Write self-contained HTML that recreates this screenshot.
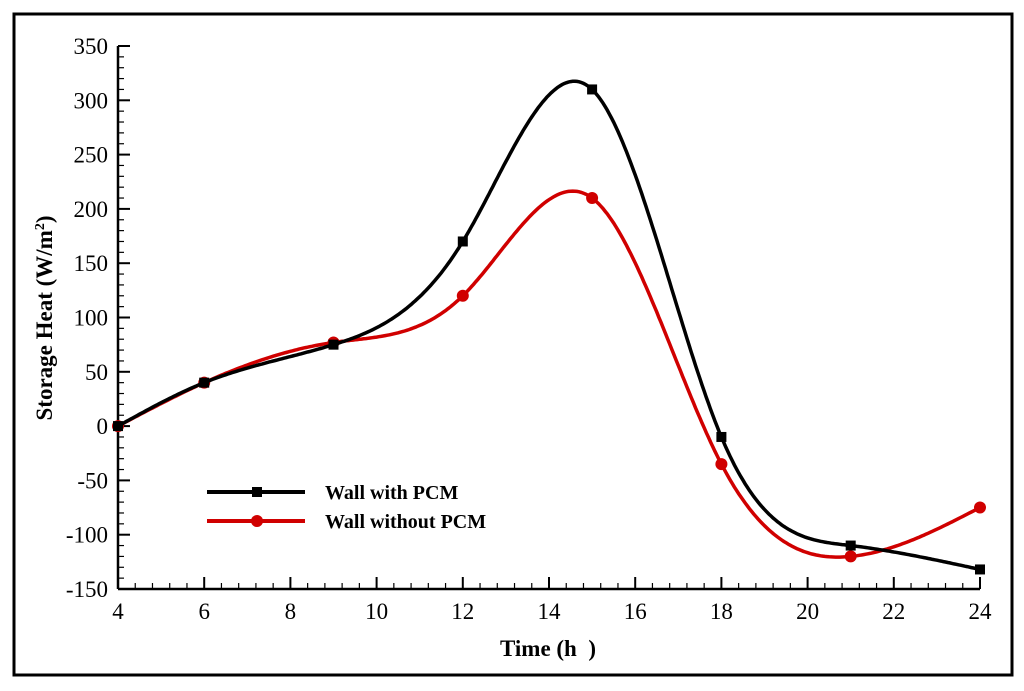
<!DOCTYPE html>
<html><head><meta charset="utf-8"><style>
body{margin:0;background:#fff}
svg{display:block;font-family:"Liberation Serif",serif}
</style></head><body>
<svg width="1024" height="691">
<rect x="14" y="14" width="998" height="661" fill="#fff" stroke="#000" stroke-width="3"/>
<g id="axes"></g>
<g id="series"></g>
<g>
<line x1="207" y1="492" x2="305" y2="492" stroke="#000" stroke-width="4"/>
<rect x="252" y="487" width="10" height="10" fill="#000"/>
<text x="325" y="499" font-size="20" font-weight="bold">Wall with PCM</text>
<line x1="207" y1="521" x2="305" y2="521" stroke="#d00000" stroke-width="4"/>
<circle cx="257" cy="521" r="6" fill="#d00000"/>
<text x="325" y="528" font-size="20" font-weight="bold">Wall without PCM</text>
</g>
<text x="548" y="656" font-size="23" font-weight="bold" text-anchor="middle">Time (h&#160;&#160;)</text>
<text transform="translate(52,318) rotate(-90)" font-size="23" font-weight="bold" text-anchor="middle">Storage Heat (W/m<tspan font-size="14" dy="-8">2</tspan><tspan dy="8">)</tspan></text>
</svg>
<script>
const xTicks=[4,6,8,10,12,14,16,18,20,22,24];
const yTicks=[350,300,250,200,150,100,50,0,-50,-100,-150];
const times=[4,6,9,12,15,18,21,24];
const withPCM=[0,40,75,170,310,-10,-110,-132];
const withoutPCM=[0,40,77,120,210,-35,-120,-75];
const NS='http://www.w3.org/2000/svg';
const X=v=>118+(v-4)*(980-118)/20;
const Y=v=>46+(350-v)*(589-46)/500;
function mk(t,a,p){const e=document.createElementNS(NS,t);for(const k in a)e.setAttribute(k,a[k]);p.appendChild(e);return e;}
const ax=document.getElementById('axes');
mk('line',{x1:118,y1:Y(350),x2:118,y2:Y(-150),stroke:'#000','stroke-width':2.5},ax);
mk('line',{x1:118,y1:Y(-150),x2:980,y2:Y(-150),stroke:'#000','stroke-width':2.5},ax);
xTicks.forEach((t,i)=>{
 mk('line',{x1:X(t),y1:Y(-150),x2:X(t),y2:Y(-150)-12,stroke:'#000','stroke-width':2},ax);
 if(i<xTicks.length-1)for(let m=1;m<5;m++){const xv=X(t+m*0.4);mk('line',{x1:xv,y1:Y(-150),x2:xv,y2:Y(-150)-6,stroke:'#000','stroke-width':1.2},ax);}
 const tx=mk('text',{x:X(t),y:Y(-150)+30,'font-size':23,'text-anchor':'middle'},ax);tx.textContent=t;
 
 
});
yTicks.forEach((t,i)=>{
 mk('line',{x1:118,y1:Y(t),x2:130,y2:Y(t),stroke:'#000','stroke-width':2},ax);
 if(i<yTicks.length-1)for(let m=1;m<5;m++){const yv=Y(t-m*10);mk('line',{x1:118,y1:yv,x2:124,y2:yv,stroke:'#000','stroke-width':1.2},ax);}
 const tx=mk('text',{x:108,y:Y(t)+8,'font-size':23,'text-anchor':'end'},ax);tx.textContent=t;
 
 
});
function spline(xs,ys){const n=xs.length,h=[],a=[],l=[1],mu=[0],z=[0],c=new Array(n).fill(0),b=[],d=[];
 for(let i=0;i<n-1;i++)h.push(xs[i+1]-xs[i]);
 for(let i=1;i<n-1;i++)a[i]=3/h[i]*(ys[i+1]-ys[i])-3/h[i-1]*(ys[i]-ys[i-1]);
 for(let i=1;i<n-1;i++){l[i]=2*(xs[i+1]-xs[i-1])-h[i-1]*mu[i-1];mu[i]=h[i]/l[i];z[i]=(a[i]-h[i-1]*z[i-1])/l[i];}
 for(let j=n-2;j>=0;j--){c[j]=(j>0?z[j]:0)-mu[j]*c[j+1];b[j]=(ys[j+1]-ys[j])/h[j]-h[j]*(c[j+1]+2*c[j])/3;d[j]=(c[j+1]-c[j])/(3*h[j]);}
 return x=>{let j=0;while(j<n-2&&x>xs[j+1])j++;const t=x-xs[j];return ys[j]+b[j]*t+c[j]*t*t+d[j]*t*t*t;};}
const sg=document.getElementById('series');
function draw(vals,col,name,square){const f=spline(times,vals);let d='';
 for(let x=4;x<=24.0001;x+=0.05)d+=(d?'L':'M')+X(x).toFixed(1)+' '+Y(f(x)).toFixed(1);
 const p=mk('path',{d:d,fill:'none',stroke:col,'stroke-width':3.5},sg);
 
 
 times.forEach((t,i)=>{let m;
  if(square)m=mk('rect',{x:X(t)-5,y:Y(vals[i])-5,width:10,height:10,fill:col},sg);
  else m=mk('circle',{cx:X(t),cy:Y(vals[i]),r:6,fill:col},sg);
  
  });}
draw(withoutPCM,'#d00000','without-pcm',false);
draw(withPCM,'#000','with-pcm',true);
</script>
</body></html>
